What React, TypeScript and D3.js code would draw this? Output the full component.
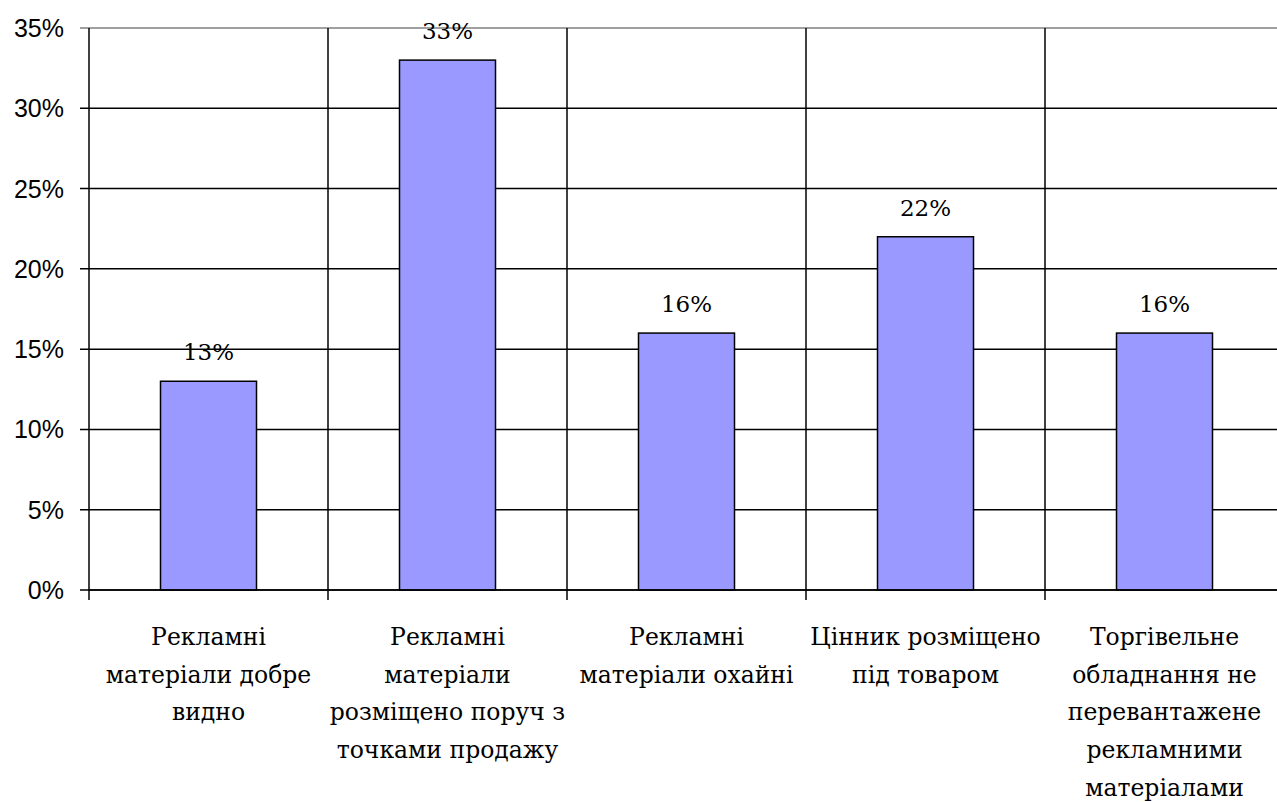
import React from "react";
import * as d3 from "d3";

const categories: string[][] = [
  ["Рекламні", "матеріали добре", "видно"],
  ["Рекламні", "матеріали", "розміщено поруч з", "точками продажу"],
  ["Рекламні", "матеріали охайні"],
  ["Цінник розміщено", "під товаром"],
  ["Торгівельне", "обладнання не", "перевантажене", "рекламними", "матеріалами"],
];
const values: number[] = [0.13, 0.33, 0.16, 0.22, 0.16];
const yTicks: number[] = [0, 0.05, 0.1, 0.15, 0.2, 0.25, 0.3, 0.35];

const SERIF = "'DejaVu Serif', serif";
const SANS = "'Liberation Sans', Arial, sans-serif";

export default function App() {
  const W = 1277, H = 802;
  const left = 89, top = 28, bottom = 590;
  const band = 239;
  const x = d3.scaleBand<number>().domain(d3.range(values.length)).range([left, left + band * values.length]).paddingInner(0).paddingOuter(0);
  const y = d3.scaleLinear().domain([0, 0.35]).range([bottom, top]);
  const barW = 96;
  const fmt = d3.format(".0%");
  return (
    <svg width={W} height={H} style={{ position: "absolute", left: 0, top: 0, background: "#fff" }}>
      {yTicks.map((t, i) => (
        <g key={"y" + i}>
          <line x1={left - 9} x2={W} y1={y(t)} y2={y(t)} stroke={t === 0.35 ? "#808080" : "#000"} strokeWidth={1.5} />
          <text x={64} y={y(t)} dy="0.36em" textAnchor="end" style={{ fontFamily: SANS }} fontSize={25} fill="#000">{fmt(t)}</text>
        </g>
      ))}
      {d3.range(values.length + 1).map((i) => {
        const xx = left + band * i;
        return <line key={"v" + i} x1={xx} x2={xx} y1={top} y2={bottom + 10} stroke="#000" strokeWidth={1.5} />;
      })}
      {values.map((v, i) => {
        const cx = (x(i) as number) + x.bandwidth() / 2;
        return (
          <g key={"b" + i}>
            <rect x={cx - barW / 2} y={y(v)} width={barW} height={bottom - y(v)} fill="#9999FF" stroke="#000" strokeWidth={1.5} />
            <text x={cx} y={y(v) - 21} textAnchor="middle" style={{ fontFamily: SERIF }} fontSize={23} fill="#000">{fmt(v)}</text>
          </g>
        );
      })}
      <line x1={left} x2={W} y1={bottom} y2={bottom} stroke="#000" strokeWidth={1.5} />
      {categories.map((lines, i) => {
        const cx = (x(i) as number) + x.bandwidth() / 2;
        return (
          <text key={"c" + i} textAnchor="middle" style={{ fontFamily: SERIF }} fontSize={23.5} fill="#000">
            {lines.map((l, j) => (
              <tspan key={j} x={cx} y={645 + j * 37.7}>{l}</tspan>
            ))}
          </text>
        );
      })}
    </svg>
  );
}
